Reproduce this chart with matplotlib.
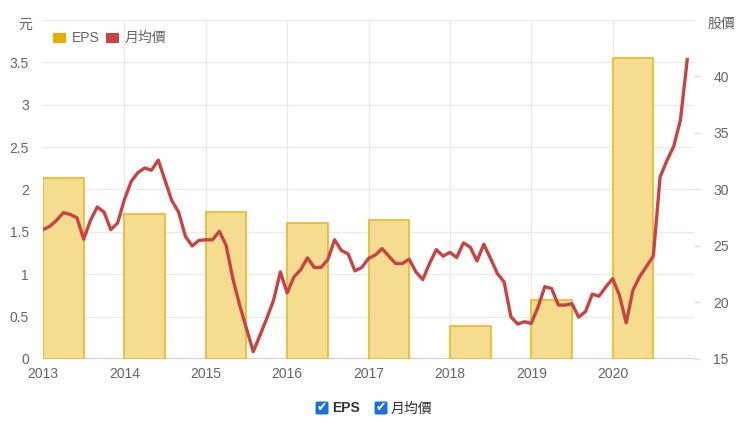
import matplotlib
matplotlib.use("Agg")
import matplotlib.pyplot as plt
from matplotlib.patches import FancyBboxPatch, Rectangle
import numpy as np

plt.rcParams['font.family'] = ['Liberation Sans', 'Noto Sans CJK TC', 'DejaVu Sans']

years = ['2013', '2014', '2015', '2016', '2017', '2018', '2019', '2020']
eps = [2.14, 1.71, 1.73, 1.61, 1.64, 0.39, 0.70, 3.55]
price = [
    26.45, 26.74, 27.27, 27.95, 27.8, 27.5, 25.6, 27.27, 28.45, 28.0, 26.45, 27.03,
    29.1, 30.7, 31.5, 31.9, 31.7, 32.6, 30.8, 29.0, 28.0, 25.85, 25.0, 25.5,
    25.55, 25.55, 26.3, 25.06, 22.1, 19.77, 17.7, 15.65, 17.1, 18.6, 20.2, 22.7,
    20.85, 22.26, 22.9, 23.95, 23.1, 23.1, 23.8, 25.55, 24.6, 24.3, 22.8, 23.1,
    23.9, 24.2, 24.77, 24.1, 23.45, 23.45, 23.83, 22.7, 22.03, 23.45, 24.68, 24.1,
    24.44, 23.98, 25.27, 24.9, 23.68, 25.15, 23.9, 22.56, 21.82, 18.73, 18.1, 18.3,
    18.15, 19.6, 21.4, 21.24, 19.77, 19.77, 19.9, 18.7, 19.2, 20.74, 20.56, 21.38,
    22.1, 20.65, 18.2, 21.1, 22.3, 23.2, 24.1, 31.1, 32.56, 33.8, 36.15, 41.5,
]
left_ticks = [0, 0.5, 1, 1.5, 2, 2.5, 3, 3.5]
right_ticks = [15, 20, 25, 30, 35, 40]

W, H = 740, 426
fig = plt.figure(figsize=(W / 100, H / 100), dpi=100)
ax = fig.add_axes([43 / W, 1 - 359 / H, (694 - 43) / W, (359 - 20) / H])
ax2 = ax.twinx()

grid_c = '#ebebeb'
tick_c = '#666666'

# bars
bar_x = np.arange(len(years)) * 12
ax.bar(bar_x, eps, width=6, align='edge', color='#f5dc91', edgecolor='#e6b82a',
       linewidth=1.2, zorder=2)

# line
mx = np.arange(len(price))
ax2.plot(mx, price, color='#c84444', linewidth=2.4, zorder=3, solid_joinstyle='round')

ax.set_xlim(0, 96)
ax.set_ylim(0, 4)
ax2.set_ylim(15, 45)

ax.set_yticks(left_ticks)
ax.set_yticklabels([('%g' % v) for v in left_ticks])
ax2.set_yticks(right_ticks)
ax2.set_yticklabels([str(v) for v in right_ticks])
ax.set_xticks(bar_x)
ax.set_xticklabels(years)

# gridlines
for v in [0.5, 1, 1.5, 2, 2.5, 3, 3.5, 4]:
    ax.axhline(v, color=grid_c, linewidth=1, zorder=0)
for xv in bar_x[1:]:
    ax.axvline(xv, color=grid_c, linewidth=1, zorder=0)
ax.axhline(0, color='#f2c4c8', linewidth=1.5, zorder=1)

for a in (ax, ax2):
    for s in a.spines.values():
        s.set_visible(False)
ax.set_zorder(ax2.get_zorder() - 1)
ax2.patch.set_visible(False)
ax.patch.set_visible(False)

ax.tick_params(axis='y', length=0, pad=10, labelsize=10, labelcolor=tick_c)
ax.tick_params(axis='x', length=0, pad=6, labelsize=10, labelcolor=tick_c)
ax2.tick_params(axis='y', length=4, width=1, color='#e0e0e0', pad=10, labelsize=10,
                labelcolor=tick_c, direction='out')

# axis titles
fig.text(25 / W, 1 - 25 / H, '元', fontsize=10, color=tick_c, ha='center', va='center')
fig.text(721 / W, 1 - 24 / H, '股價', fontsize=10, color=tick_c, ha='center', va='center')

# top legend
fig.patches.append(Rectangle((53 / W, 1 - 43 / H), 13 / W, 10 / H, transform=fig.transFigure,
                             facecolor='#e6b000', edgecolor='none'))
fig.text(72 / W, 1 - 37.5 / H, 'EPS', fontsize=10, color=tick_c, va='center', ha='left')
fig.patches.append(Rectangle((106 / W, 1 - 43 / H), 13 / W, 10 / H, transform=fig.transFigure,
                             facecolor='#c84444', edgecolor='none'))
fig.text(125 / W, 1 - 37.5 / H, '月均價', fontsize=10, color=tick_c, va='center', ha='left')

# bottom legend with checkboxes
def checkbox(xc, yc):
    s = 13
    fig.patches.append(FancyBboxPatch(((xc - s / 2) / W, 1 - (yc + s / 2) / H), s / W, s / H,
                                      boxstyle='round,pad=0,rounding_size=0.003',
                                      transform=fig.transFigure, facecolor='#1a6fe0',
                                      edgecolor='none'))
    fig.text(xc / W, 1 - yc / H, '✔', fontsize=9, color='white', ha='center', va='center',
             family='DejaVu Sans', fontweight='bold')

checkbox(322, 408)
fig.text(332 / W, 1 - 408.5 / H, 'EPS', fontsize=10, color='#333333', fontweight='bold',
         ha='left', va='center')
checkbox(381, 408)
fig.text(391 / W, 1 - 408.5 / H, '月均價', fontsize=10, color='#333333', ha='left', va='center')

fig.savefig('out.png', dpi=100)
